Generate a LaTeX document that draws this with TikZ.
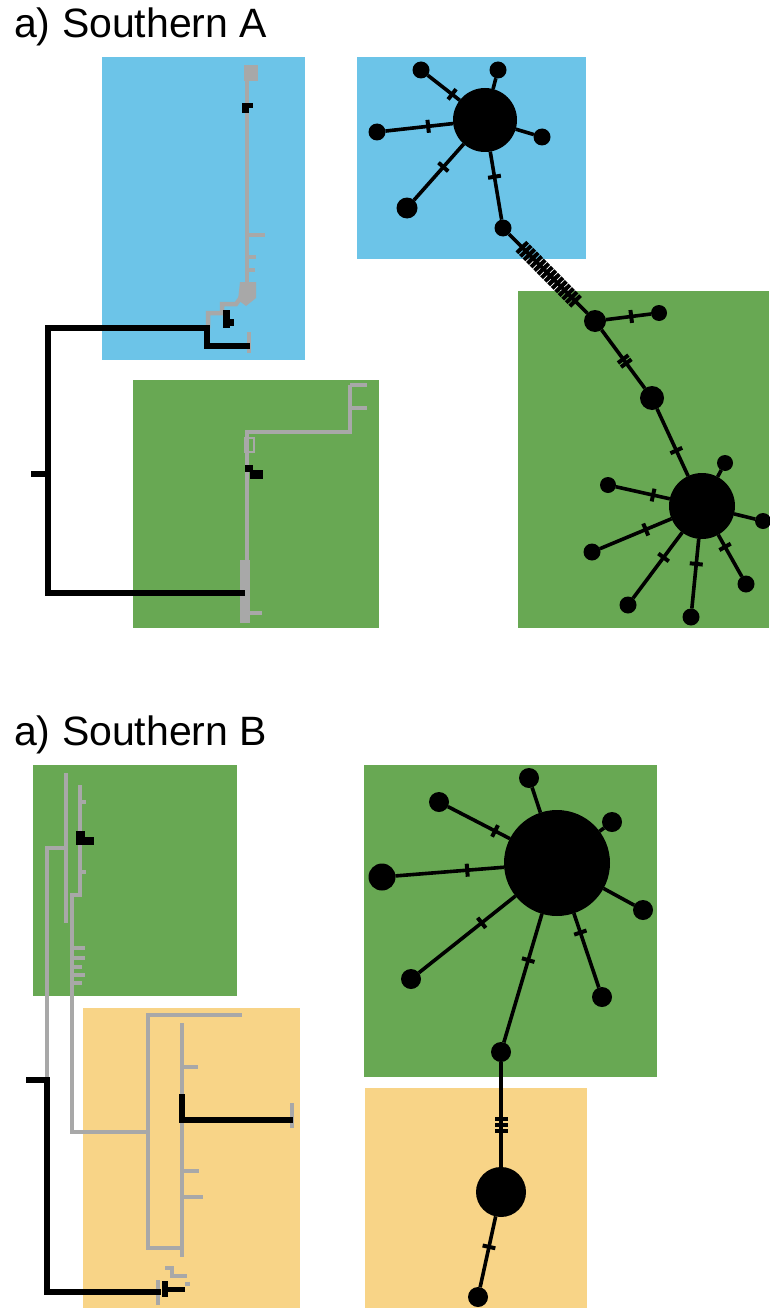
\documentclass[tikz,border=0pt]{standalone}
\usepackage{fontspec}
\setmainfont{Liberation Sans}
\begin{document}
\begin{tikzpicture}[x=1pt,y=-1pt,
  hap/.style={circle,fill=black,inner sep=0pt,outer sep=0pt,minimum size=#1pt},
  edge/.style={line width=3.6pt},
  mut/.style={rectangle,fill=black,inner sep=0pt,outer sep=0pt,minimum width=4pt,minimum height=13pt,sloped},
  bandmut/.style={mut,minimum height=15pt},
  btree/.style={line width=6pt,black,line cap=rect},
  gtree/.style={line width=4.5pt,branch},
  gtick/.style={line width=3.5pt,branch},
  title/.style={anchor=base west,font=\fontsize{41}{48}\selectfont,inner sep=0pt}]
\definecolor{skyA}{HTML}{6CC4E8}
\definecolor{leaf}{HTML}{68A853}
\definecolor{sand}{HTML}{F8D487}
\definecolor{branch}{HTML}{A8A8A8}
\useasboundingbox (0,0) rectangle (769,1308);
\fill[white] (0,0) rectangle (769,1308);

% ---------- panel titles ----------
\node[title] (titleA) at (14,38) {a) Southern A};
\node[title] (titleB) at (14,745) {a) Southern B};

% ---------- coloured groups ----------
\fill[skyA] (102,57) rectangle (305,360);
\fill[leaf] (133,380) rectangle (379,628);
\fill[skyA] (357,57) rectangle (586,259);
\fill[leaf] (518,291) rectangle (769,628);

\fill[leaf] (33,765) rectangle (237,996);
\fill[sand] (83,1008) rectangle (300,1308);
\fill[leaf] (364,765) rectangle (657,1077);
\fill[sand] (365,1088) rectangle (587,1308);

% ---------- tree A ----------
% upper clade
\draw[gtree] (247,65) -- (247,288);
\fill[branch] (244,65) rectangle (258,81);
\draw[gtick] (247,235) -- (265,235);
\draw[gtick] (247,257) -- (256,257);
\draw[gtick] (247,270) -- (255,270);
\fill[branch] (240,282) -- (256,282) -- (256,298) -- (246,306) -- (238,300) -- cycle;
\draw[gtree] (242,296) -- (236,304) -- (222,304) -- (222,313) -- (208,313) -- (208,328);
\draw[gtree] (249,332) -- (249,353);
\fill[black] (242,103) rectangle (253,108);
\fill[black] (242,103) rectangle (249,113);
\fill[black] (223,310) rectangle (230,328);
\fill[black] (229,319) rectangle (234,326);
% lower clade
\draw[gtree] (350,385) -- (350,432) -- (247,432) -- (247,560);
\draw[gtick] (350,385) -- (367,385);
\draw[gtick] (350,408) -- (367,408);
\draw[branch,line width=1.5pt] (245,438) rectangle (254,452);
\fill[branch] (240,560) rectangle (250,623);
\draw[gtick] (247,613) -- (262,613);
\fill[black] (245,465) rectangle (253,472);
\fill[black] (250,470) rectangle (263,479);
% root
\draw[btree] (207,346) -- (247,346);
\draw[btree] (242,593) -- (48,593) -- (48,328) -- (207,328) -- (207,346);
\draw[btree] (34,474) -- (48,474);

% ---------- tree B ----------
\draw[gtree] (66,773) -- (66,923);
\draw[gtree] (80,785) -- (80,895) -- (72,895) -- (72,1132) -- (148,1132);
\draw[gtick] (80,802) -- (86,802);
\draw[gtick] (80,872) -- (86,872);
\draw[gtick] (72,948) -- (85,948);
\draw[gtick] (72,958) -- (85,958);
\draw[gtick] (72,967) -- (82,967);
\draw[gtick] (72,975) -- (85,975);
\draw[gtick] (72,983) -- (82,983);
\draw[gtree] (66,848) -- (47,848) -- (47,1078);
\fill[black] (76,831) rectangle (85,845);
\fill[black] (85,837) rectangle (94,845);
% yellow clade
\draw[gtree] (242,1015) -- (148,1015) -- (148,1248) -- (182,1248);
\draw[gtree] (182,1023) -- (182,1257);
\draw[gtick] (182,1067) -- (198,1067);
\draw[gtick] (182,1171) -- (199,1171);
\draw[gtick] (182,1197) -- (203,1197);
\draw[gtree] (292,1103) -- (292,1128);
\draw[btree] (182,1097) -- (182,1120) -- (290,1120);
\draw[gtree] (158,1280) -- (158,1305);
\draw[gtick] (165,1268) -- (172,1268) -- (172,1276) -- (187,1276);
\draw[gtick] (185,1284) -- (190,1284);
\fill[black] (162,1281) rectangle (168,1297);
\draw[black,line width=5pt] (165,1289) -- (185,1289);
% root
\draw[btree] (29,1080) -- (47,1080) -- (47,1292) -- (158,1292);

% ---------- haplotype network A ----------
\node[hap=64] (H1) at (485,120) {};
\node[hap=17] (n1) at (421,70) {};
\node[hap=17] (n2) at (498,70) {};
\node[hap=17] (n3) at (542,137) {};
\node[hap=17] (n4) at (377,132) {};
\node[hap=21] (n5) at (407,208) {};
\node[hap=17] (n6) at (503,228) {};
\node[hap=22] (m1) at (595,321) {};
\node[hap=16] (m2) at (659,313) {};
\node[hap=24] (m3) at (652,398) {};
\node[hap=66] (H2) at (702,506) {};
\node[hap=16] (p1) at (725,463) {};
\node[hap=16] (p2) at (608,485) {};
\node[hap=16] (p3) at (763,521) {};
\node[hap=17] (p4) at (592,552) {};
\node[hap=17] (p5) at (628,605) {};
\node[hap=17] (p6) at (691,617) {};
\node[hap=17] (p7) at (746,584) {};

\draw[edge] (H1) -- (n1) node[mut,pos=0.24]{};
\draw[edge] (H1) -- (n2);
\draw[edge] (H1) -- (n3);
\draw[edge] (H1) -- (n4) node[mut,pos=0.37]{};
\draw[edge] (H1) -- (n5) node[mut,pos=0.41]{};
\draw[edge] (H1) -- (n6) node[mut,pos=0.37]{};
\draw[edge] (n6) -- (m1) foreach \p in {0.17,0.215,...,0.85} {node[bandmut,pos=\p]{}};
\draw[edge] (m1) -- (m2) node[mut,pos=0.56]{};
\draw[edge] (m1) -- (m3) node[mut,pos=0.5]{} node[mut,pos=0.57]{};
\draw[edge] (m3) -- (H2) node[mut,pos=0.62]{};
\draw[edge] (H2) -- (p1);
\draw[edge] (H2) -- (p2) node[mut,pos=0.31]{};
\draw[edge] (H2) -- (p3);
\draw[edge] (H2) -- (p4) node[mut,pos=0.36]{};
\draw[edge] (H2) -- (p5) node[mut,pos=0.38]{};
\draw[edge] (H2) -- (p6) node[mut,pos=0.36]{};
\draw[edge] (H2) -- (p7) node[mut,pos=0.29]{};

% ---------- haplotype network B ----------
\node[hap=106] (K1) at (557,863) {};
\node[hap=20] (q1) at (529,778) {};
\node[hap=20] (q2) at (439,802) {};
\node[hap=20] (q3) at (612,822) {};
\node[hap=27] (q4) at (382,877) {};
\node[hap=20] (q5) at (643,910) {};
\node[hap=20] (q6) at (411,979) {};
\node[hap=20] (q7) at (602,997) {};
\node[hap=20] (q8) at (501,1052) {};
\node[hap=50] (K2) at (501,1192) {};
\node[hap=20] (q9) at (478,1297) {};

\draw[edge] (K1) -- (q1);
\draw[edge] (K1) -- (q2) node[mut,pos=0.24]{};
\draw[edge] (K1) -- (q3);
\draw[edge] (K1) -- (q4) node[mut,pos=0.34]{};
\draw[edge] (K1) -- (q5);
\draw[edge] (K1) -- (q6) node[mut,pos=0.35]{};
\draw[edge] (K1) -- (q7) node[mut,pos=0.26]{};
\draw[edge] (K1) -- (q8) node[mut,pos=0.36]{};
\draw[edge] (q8) -- (K2) node[mut,pos=0.54]{} node[mut,pos=0.6]{} node[mut,pos=0.66]{};
\draw[edge] (K2) -- (q9) node[mut,pos=0.43]{};
\end{tikzpicture}
\end{document}
